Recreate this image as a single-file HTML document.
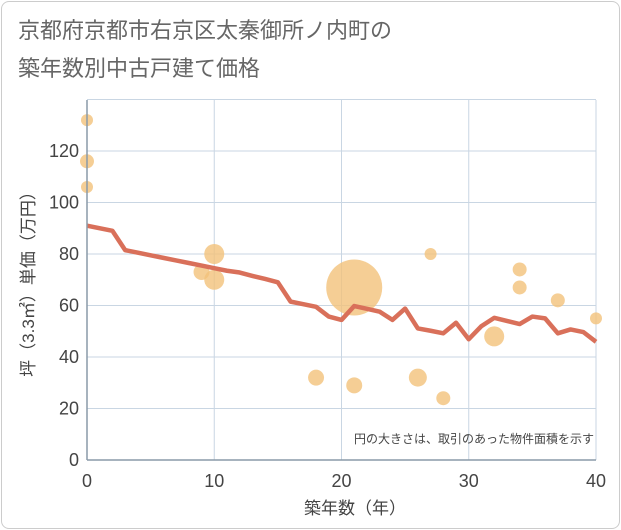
<!DOCTYPE html>
<html><head><meta charset="utf-8"><style>
body{margin:0;background:#fff;font-family:"Liberation Sans","Noto Sans CJK JP",sans-serif}
#card{position:absolute;left:1px;top:1px;width:617px;height:526px;border:1px solid #ccc;border-radius:8px;background:#fff}
</style></head><body>
<div id="card"></div>
<svg id="chart" width="621" height="530" style="position:absolute;left:0;top:0">
<text x="18" y="38" font-size="22" fill="#666">京都府京都市右京区太秦御所ノ内町の</text>
<text x="18" y="76" font-size="22" fill="#666">築年数別中古戸建て価格</text>
<text transform="translate(34,280) rotate(-90)" text-anchor="middle" font-size="17" fill="#444">坪（3.3㎡）単価（万円）</text>
<text x="355" y="514" text-anchor="middle" font-size="17" fill="#444">築年数（年）</text>
<g id="grid"></g><g id="bubbles"></g><g id="line"></g><g id="ticks"></g>
<text x="594" y="443" text-anchor="end" font-size="12" fill="#444">円の大きさは、取引のあった物件面積を示す</text>
</svg>
<script>
const xTicks=[0,10,20,30,40];
const yTicks=[0,20,40,60,80,100,120];
const lineYears=[0,2,3,4,5,6,7,8,9,10,11,12,13,14,15,16,17,18,19,20,21,22,23,24,25,26,27,28,29,30,31,32,33,34,35,36,37,38,39,40];
const lineValues=[91,89,81.5,80.5,79.5,78.5,77.5,76.5,75.5,74.5,73.5,72.8,71.5,70.3,69,61.5,60.5,59.5,55.7,54.4,59.8,58.7,57.6,54.4,58.8,51.1,50.2,49.2,53.3,46.9,52,55.2,54,52.8,55.7,55,49.2,50.7,49.7,45.9];
const bubbleYears=[0,0,0,9,10,10,18,21,21,26,27,28,32,34,34,37,40];
const bubbleValues=[132,116,106,73,80,70,32,67,29,32,80,24,48,74,67,62,55];
const bubbleSizes=[6,7,6,8,10,10,8,28,8,9,6,7,10,7,7,7,6];
const NS="http://www.w3.org/2000/svg";
const X0=87,X1=596,Y0=460,Y1=100;
const sx=v=>X0+(v/40)*(X1-X0);
const sy=v=>Y0-v*2.575;
function mk(t,a,p){const e=document.createElementNS(NS,t);for(const k in a)e.setAttribute(k,a[k]);p.appendChild(e);return e;}
const grid=document.getElementById('grid'),tk=document.getElementById('ticks');
for(const t of xTicks){const l=mk('line',{x1:sx(t),x2:sx(t),y1:Y1,y2:Y0,stroke:'#c9d6e3','stroke-width':1},grid);


const tx=mk('text',{x:sx(t),y:487,'text-anchor':'middle','font-size':18,fill:'#444'},tk);tx.textContent=t;

}
for(let v=0;v<=140;v+=20){const l=mk('line',{x1:X0,x2:X1,y1:sy(v),y2:sy(v),stroke:'#c9d6e3','stroke-width':1},grid);

}
for(const t of yTicks){const tx=mk('text',{x:79,y:sy(t)+6,'text-anchor':'end','font-size':18,fill:'#444'},tk);tx.textContent=t;

}
const ax=mk('line',{x1:X0,x2:X0,y1:Y1,y2:Y0,stroke:'#8a9aa8','stroke-width':1.5},tk);


const bx=mk('line',{x1:X0,x2:X1,y1:Y0,y2:Y0,stroke:'#8a9aa8','stroke-width':1.5},tk);


const bg=document.getElementById('bubbles');
bubbleYears.forEach((yr,i)=>{const c=mk('circle',{cx:sx(yr),cy:sy(bubbleValues[i]),r:bubbleSizes[i],fill:'#f3c27a','fill-opacity':0.8},bg);

});
const pts=lineYears.map((yr,i)=>sx(yr)+','+sy(lineValues[i])).join(' ');
const pl=mk('polyline',{points:pts,fill:'none',stroke:'#d9705a','stroke-width':4.5,'stroke-linejoin':'round'},document.getElementById('line'));


</script>
</body></html>
